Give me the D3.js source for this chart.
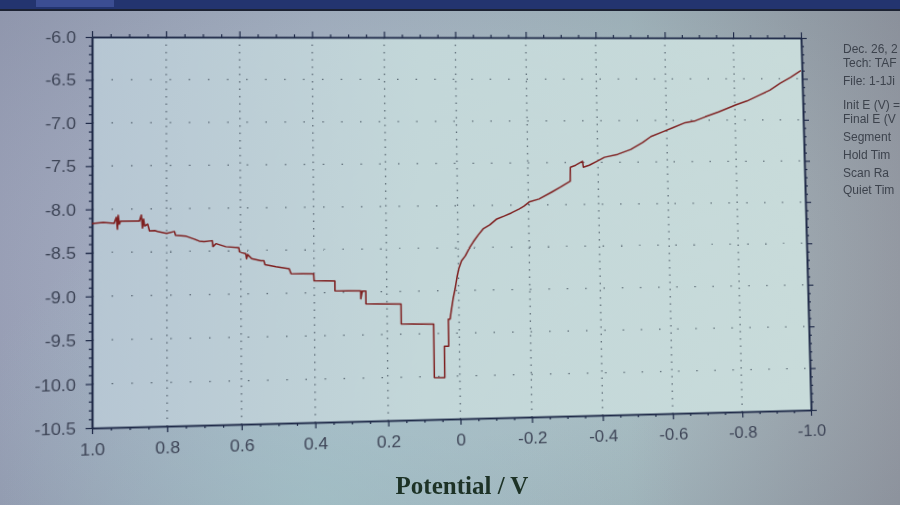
<!DOCTYPE html>
<html>
<head>
<meta charset="utf-8">
<script src="https://cdn.jsdelivr.net/npm/d3@7/dist/d3.min.js"></script>
<style>
html,body{margin:0;padding:0;}
body{width:900px;height:505px;overflow:hidden;position:relative;
 background:
  radial-gradient(ellipse at 35% 100%, rgba(160,200,200,0.55) 0%, rgba(160,200,200,0) 45%),
  radial-gradient(ellipse at 50% 55%, rgba(180,205,210,0.0) 40%, rgba(70,80,100,0.22) 100%),
  linear-gradient(to right,#a3a9c0 0%,#a9b6c6 35%,#a8bcc2 70%,#9da2aa 100%);}
#warp{position:absolute;left:0;top:0;width:900px;height:505px;transform-origin:0 0;}
svg{position:absolute;left:0;top:0;overflow:visible;}
</style>
</head>
<body>
<svg id="back" width="900" height="505"></svg>
<div id="warp"><svg id="chart" width="900" height="505"></svg></div>
<svg id="over" width="900" height="505"></svg>
<script>
// ---------------- data ----------------
const potentialV = [
 1.000,0.970,0.941,0.935,0.932,0.930,0.927,0.924,0.873,0.868,0.865,0.862,0.859,0.851,0.846,0.832,0.824,
 0.800,0.779,0.776,0.747,0.725,0.712,0.699,0.677,0.675,0.667,0.640,0.605,0.603,0.586,0.584,0.581,0.570,
 0.545,0.537,0.534,0.504,0.468,0.463,0.401,0.400,0.343,0.343,0.272,0.272,0.268,0.258,0.258,0.161,0.161,
 0.071,0.071,0.042,0.042,0.030,0.030,0.025,
 0.022,0.016,0.010,0.004,-0.001,-0.009,-0.020,-0.032,-0.043,-0.057,-0.071,-0.090,-0.110,-0.132,-0.151,
 -0.174,-0.188,-0.202,-0.230,-0.267,-0.292,-0.320,-0.321,-0.336,-0.356,-0.358,-0.375,-0.398,-0.419,
 -0.457,-0.495,-0.530,-0.554,-0.590,-0.619,-0.654,-0.684,-0.713,-0.752,-0.802,-0.836,-0.873,-0.904,
 -0.935,-0.966,-0.997
];
const logCurrent = [
 -8.164,-8.153,-8.164,-8.095,-8.233,-8.072,-8.175,-8.141,-8.141,-8.072,-8.222,-8.118,-8.199,-8.176,-8.256,-8.253,-8.265,
 -8.288,-8.266,-8.311,-8.323,-8.358,-8.381,-8.388,-8.378,-8.447,-8.413,-8.450,-8.463,-8.510,-8.534,-8.592,-8.545,-8.592,
 -8.618,-8.618,-8.665,-8.691,-8.716,-8.775,-8.779,-8.861,-8.865,-8.981,-8.987,-9.080,-8.990,-8.990,-9.139,-9.147,-9.382,
 -9.389,-10.013,-10.016,-9.651,-9.651,-9.334,-9.334,
 -9.251,-9.099,-8.981,-8.840,-8.746,-8.652,-8.594,-8.500,-8.429,-8.349,-8.278,-8.232,-8.163,-8.128,-8.094,
 -8.048,-8.012,-7.966,-7.932,-7.850,-7.792,-7.722,-7.556,-7.533,-7.486,-7.557,-7.534,-7.487,-7.440,
 -7.406,-7.348,-7.265,-7.194,-7.135,-7.088,-7.029,-7.006,-6.959,-6.900,-6.817,-6.769,-6.698,-6.638,
 -6.554,-6.482,-6.398
];
const xTicks = [1.0,0.8,0.6,0.4,0.2,0,-0.2,-0.4,-0.6,-0.8,-1.0];
const yTicks = [-6.0,-6.5,-7.0,-7.5,-8.0,-8.5,-9.0,-9.5,-10.0,-10.5];
const xTitle = "Potential / V";
const infoLines = ["Dec. 26, 2","Tech: TAF","File: 1-1Ji","Init E (V) =","Final E (V","Segment","Hold Tim","Scan Ra","Quiet Tim"];

// ---------------- geometry ----------------
const L=92, R=801, T=37, B=428;
const x = d3.scaleLinear().domain([1,-1]).range([L,R]);
const y = d3.scaleLinear().domain([-10.5,-6]).range([B,T]);

// perspective of the photographed screen: rectangle -> observed quad
function homography(src,dst){
  const A=[],b=[];
  for(let i=0;i<4;i++){
    const [sx,sy]=src[i],[X,Y]=dst[i];
    A.push([sx,sy,1,0,0,0,-sx*X,-sy*X]); b.push(X);
    A.push([0,0,0,sx,sy,1,-sx*Y,-sy*Y]); b.push(Y);
  }
  const n=8;
  for(let c=0;c<n;c++){
    let p=c; for(let r=c+1;r<n;r++) if(Math.abs(A[r][c])>Math.abs(A[p][c])) p=r;
    [A[c],A[p]]=[A[p],A[c]]; [b[c],b[p]]=[b[p],b[c]];
    for(let r=0;r<n;r++){ if(r===c) continue; const f=A[r][c]/A[c][c];
      for(let k=c;k<n;k++) A[r][k]-=f*A[c][k]; b[r]-=f*b[c]; }
  }
  return b.map((v,i)=>v/A[i][i]);
}
const hm = homography([[L,T],[R,T],[R,B],[L,B]],[[92,37],[801,38],[811,410],[92,428]]);
const [ha,hb,hc,hd,he,hf,hg,hh]=hm;
document.getElementById("warp").style.transform =
  `matrix3d(${ha},${hd},0,${hg},${hb},${he},0,${hh},0,0,1,0,${hc},${hf},0,1)`;

// ---------------- background (photo surroundings) ----------------
const back = d3.select("#back");
back.append("rect").attr("x",0).attr("y",0).attr("width",900).attr("height",9).attr("fill","#23346f");
back.append("rect").attr("x",36).attr("y",0).attr("width",78).attr("height",7).attr("fill","#3b4d92");
back.append("rect").attr("x",0).attr("y",9).attr("width",900).attr("height",2).attr("fill","#1c2233");

// ---------------- chart (warped) ----------------
const svg = d3.select("#chart");
const defs = svg.append("defs");
const pg = defs.append("linearGradient").attr("id","plotbg").attr("x1",0).attr("y1",0).attr("x2",1).attr("y2",0);
pg.append("stop").attr("offset",0).attr("stop-color","#b6c6d3");
pg.append("stop").attr("offset",0.45).attr("stop-color","#c3d7d9");
pg.append("stop").attr("offset",1).attr("stop-color","#c8dbda");
svg.append("rect").attr("x",L).attr("y",T).attr("width",R-L).attr("height",B-T).attr("fill","url(#plotbg)");

// grid
const grid = svg.append("g").attr("stroke","#3f4b58").attr("stroke-width",1.3).attr("stroke-opacity",0.75);
grid.selectAll(".gx").data(xTicks.slice(1,-1)).join("line")
  .attr("x1",d=>x(d)).attr("x2",d=>x(d)).attr("y1",T).attr("y2",B).attr("stroke-dasharray","1.5 6");
grid.selectAll(".gy").data(yTicks.slice(1,-1)).join("line")
  .attr("x1",L).attr("x2",R).attr("y1",d=>y(d)).attr("y2",d=>y(d)).attr("stroke-dasharray","1.5 17");

const fmtX = d => d===0 ? "0" : d.toFixed(1);
const fmtY = d => d.toFixed(1);
const minorX = d3.range(-1,1.0001,0.05).map(v=>+v.toFixed(2)).filter(v=>!xTicks.some(t=>Math.abs(t-v)<1e-6));
const minorY = d3.range(-10.5,-5.9999,0.1).map(v=>+v.toFixed(2)).filter(v=>!yTicks.some(t=>Math.abs(t-v)<1e-6));

function styleAxis(g){
  g.selectAll("path").attr("stroke","#1f2a48").attr("stroke-width",1.6);
  g.selectAll("line").attr("stroke","#1f2a48").attr("stroke-width",1.2);
  g.selectAll("text").attr("fill","#3e4557").style("font-family","'Liberation Sans',Arial,sans-serif").style("font-size","17px");
}
// minor ticks
svg.append("g").attr("transform",`translate(0,${B})`).call(d3.axisBottom(x).tickValues(minorX).tickSize(3).tickFormat("").tickSizeOuter(0)).call(styleAxis);
svg.append("g").attr("transform",`translate(0,${T})`).call(d3.axisTop(x).tickValues(minorX).tickSize(3).tickFormat("").tickSizeOuter(0)).call(styleAxis);
svg.append("g").attr("transform",`translate(${L},0)`).call(d3.axisLeft(y).tickValues(minorY).tickSize(3).tickFormat("").tickSizeOuter(0)).call(styleAxis);
svg.append("g").attr("transform",`translate(${R},0)`).call(d3.axisRight(y).tickValues(minorY).tickSize(3).tickFormat("").tickSizeOuter(0)).call(styleAxis);
// major ticks
svg.append("g").attr("transform",`translate(0,${B})`).call(d3.axisBottom(x).tickValues(xTicks).tickSize(6).tickPadding(9).tickFormat(fmtX).tickSizeOuter(0)).call(styleAxis);
svg.append("g").attr("transform",`translate(0,${T})`).call(d3.axisTop(x).tickValues(xTicks).tickSize(6).tickFormat("").tickSizeOuter(0)).call(styleAxis);
svg.append("g").attr("transform",`translate(${L},0)`).call(d3.axisLeft(y).tickValues(yTicks).tickSize(6).tickPadding(9).tickFormat(fmtY).tickSizeOuter(0)).call(styleAxis);
svg.append("g").attr("transform",`translate(${R},0)`).call(d3.axisRight(y).tickValues(yTicks).tickSize(6).tickFormat("").tickSizeOuter(0)).call(styleAxis);

// curve
const pts = potentialV.map((p,i)=>[p,logCurrent[i]]);
svg.append("path").datum(pts)
  .attr("fill","none").attr("stroke","#7e1f1f").attr("stroke-width",1.5).attr("stroke-linejoin","round")
  .attr("d", d3.line().x(d=>x(d[0])).y(d=>y(d[1])));

// ---------------- unwarped texts ----------------
const over = d3.select("#over");
over.append("text").attr("x",462).attr("y",494).attr("text-anchor","middle")
  .style("font-family","'Liberation Serif','Times New Roman',serif").style("font-weight","bold").style("font-size","25px")
  .attr("fill","#1d3226").text(xTitle);
const infoY = [53,67,85,109,123,141,159,177,194];
over.selectAll(".info").data(infoLines).join("text")
  .attr("x",843).attr("y",(d,i)=>infoY[i])
  .style("font-family","'Liberation Sans',Arial,sans-serif").style("font-size","12px")
  .attr("fill","#3d434d").text(d=>d);
</script>
</body>
</html>
